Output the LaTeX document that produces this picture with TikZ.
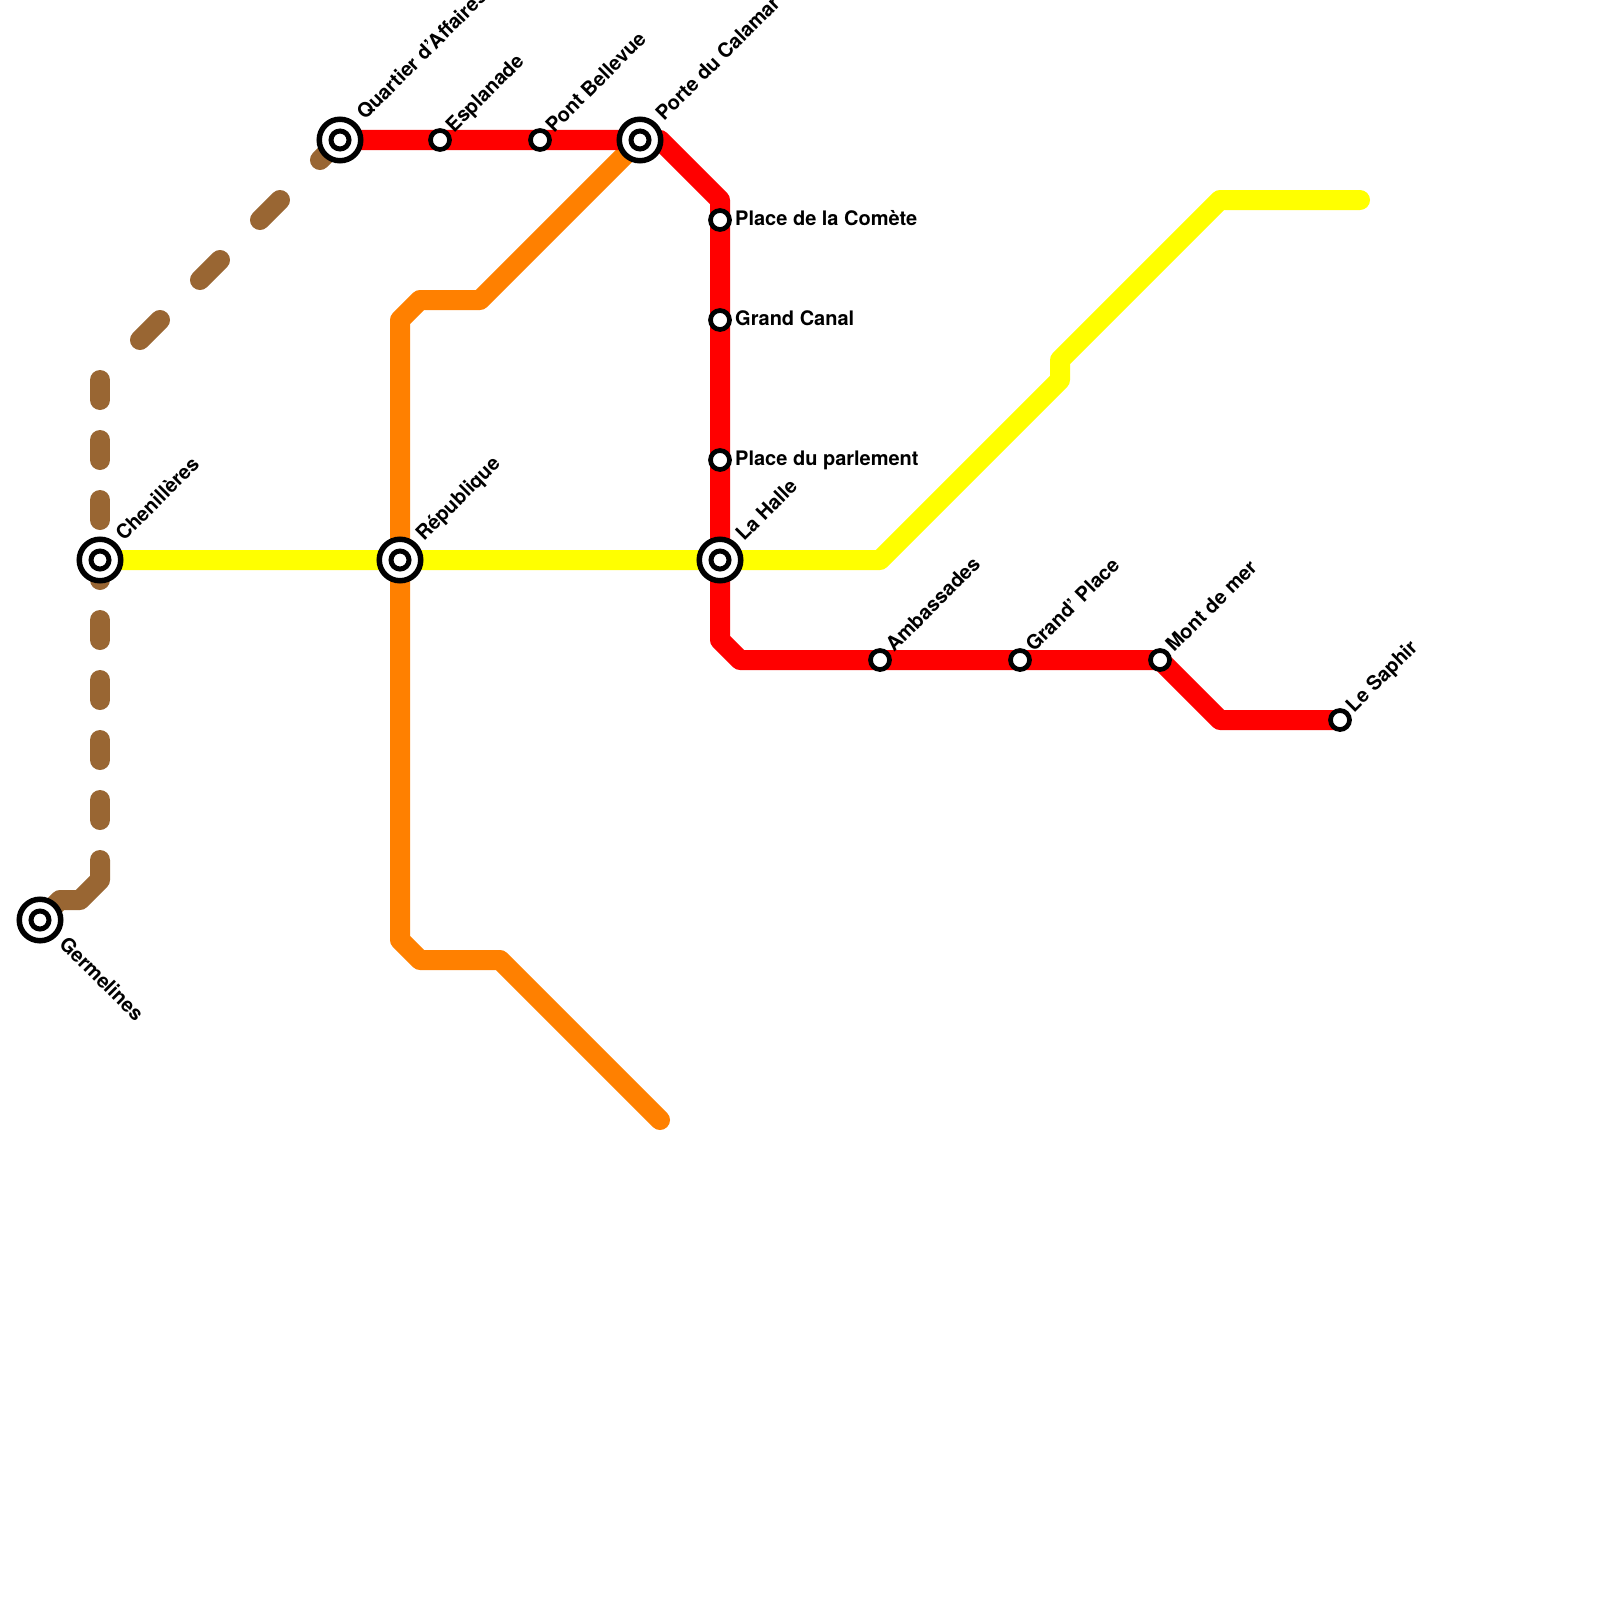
\documentclass[tikz,border=0pt]{standalone}
\usepackage{fontspec}
\setmainfont{TeX Gyre Heros}
\usetikzlibrary{
    positioning,
    backgrounds
}

\begin{document}
\begin{tikzpicture}[
    x=1pt, y=-1pt,
    font=\fontsize{20}{22}\selectfont\bfseries,
    line/.style={line width=20pt, line join=round, line cap=round},
    redline/.style={line, draw={rgb,255:red,255;green,0;blue,0}},
    yellowline/.style={line, draw={rgb,255:red,255;green,255;blue,0}},
    orangeline/.style={line, draw={rgb,255:red,255;green,128;blue,0}},
    brownline/.style={line, draw={rgb,255:red,153;green,102;blue,51}},
    stopnode/.style={
        circle, draw=black, fill=white, line width=4.7pt,
        minimum size=19pt, inner sep=0pt
    },
    hubnode/.style={
        circle, draw=black, fill=white, line width=5.5pt,
        minimum size=41.5pt, inner sep=0pt
    },
    hubcore/.style={
        circle, draw=black, fill=white, line width=5pt,
        minimum size=18pt, inner sep=0pt
    },
    uplabel/.style={rotate=45, anchor=base west, inner sep=0pt},
    downlabel/.style={rotate=-45, anchor=base west, inner sep=0pt},
    sidelabel/.style={anchor=base west, inner sep=0pt}
]
\useasboundingbox (0,0) rectangle (1600,1600);

% Interchanges
\node[hubnode] (germelines) at (40,920) {};
\node[hubcore] (germelines_in) at (germelines) {};
\node[hubnode] (chenilleres) at (100,560) {};
\node[hubcore] (chenilleres_in) at (chenilleres) {};
\node[hubnode] (republique) at (400,560) {};
\node[hubcore] (republique_in) at (republique) {};
\node[hubnode] (halle) at (720,560) {};
\node[hubcore] (halle_in) at (halle) {};
\node[hubnode] (quartier) at (340,140) {};
\node[hubcore] (quartier_in) at (quartier) {};
\node[hubnode] (calamar) at (640,140) {};
\node[hubcore] (calamar_in) at (calamar) {};

% Stops
\node[stopnode] (esplanade) at (440,140) {};
\node[stopnode] (bellevue) at (540,140) {};
\node[stopnode] (comete) at (720,220) {};
\node[stopnode] (canal) at (720,320) {};
\node[stopnode] (parlement) at (720,460) {};
\node[stopnode] (ambassades) at (880,660) {};
\node[stopnode] (grandplace) at (1020,660) {};
\node[stopnode] (montmer) at (1160,660) {};
\node[stopnode] (saphir) at (1340,720) {};

% Free line ends
\coordinate (yellow_end) at (1360,200);
\coordinate (orange_end) at (660,1120);
\coordinate (brown_a) at (100,860);
\coordinate (brown_b) at (100,380);

% Labels
\node[downlabel] (germelines_lab) at (58,945) {Germelines};
\node[uplabel] (chenilleres_lab) at (124,542) {Chenillères};
\node[uplabel] (republique_lab) at (424,542) {République};
\node[uplabel] (halle_lab) at (744,542) {La Halle};
\node[uplabel] (quartier_lab) at (365,121) {Quartier d’Affaires};
\node[uplabel] (calamar_lab) at (664,122) {Porte du Calamar};
\node[uplabel] (esplanade_lab) at (454,133.5) {Esplanade};
\node[uplabel] (bellevue_lab) at (554,133.5) {Pont Bellevue};
\node[sidelabel] (comete_lab) at (735,225) {Place de la Comète};
\node[sidelabel] (canal_lab) at (735,325) {Grand Canal};
\node[sidelabel] (parlement_lab) at (735,465) {Place du parlement};
\node[uplabel] (ambassades_lab) at (894,653) {Ambassades};
\node[uplabel] (grandplace_lab) at (1034,653) {Grand’ Place};
\node[uplabel] (montmer_lab) at (1174,653) {Mont de mer};
\node[uplabel] (saphir_lab) at (1354,713.5) {Le Saphir};

% Lines
\begin{scope}[on background layer]
\draw[brownline] (germelines.center) -- (60,900) -- (80,900) -- (100,880) -- (brown_a);
\draw[brownline, dash pattern=on 20pt off 40pt, dash phase=20pt] (brown_a) -- (brown_b);
\draw[brownline, dash pattern=on 28.28pt off 56.57pt, dash phase=28.28pt] (brown_b) -- (quartier.center);
\draw[orangeline] (calamar.center) -- (480,300) -- (420,300) -- (400,320) -- (republique.center)
    -- (400,940) -- (420,960) -- (500,960) -- (orange_end);
\draw[redline] (quartier.center) -- (esplanade.center) -- (bellevue.center) -- (calamar.center)
    -- (660,140) -- (720,200) -- (comete.center) -- (canal.center) -- (parlement.center) -- (halle.center)
    -- (720,640) -- (740,660) -- (ambassades.center) -- (grandplace.center) -- (montmer.center)
    -- (1220,720) -- (saphir.center);
\draw[yellowline] (chenilleres.center) -- (republique.center) -- (halle.center) -- (880,560)
    -- (1060,380) -- (1060,360) -- (1220,200) -- (yellow_end);
\end{scope}

\end{tikzpicture}
\end{document}
